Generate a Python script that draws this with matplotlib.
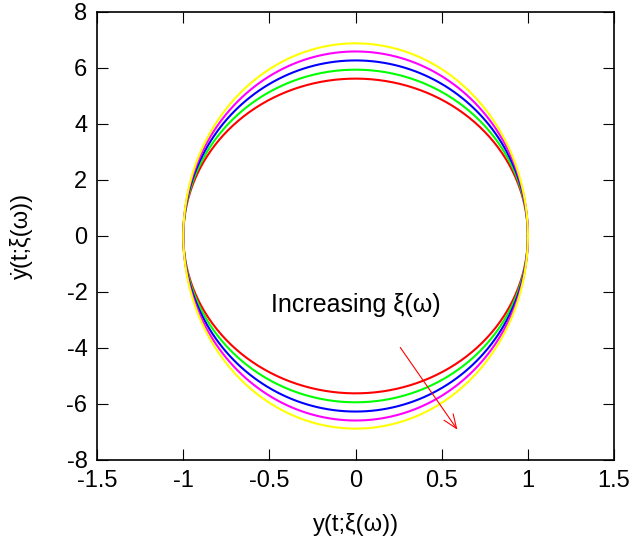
import matplotlib.pyplot as plt
import numpy as np

plt.rcParams['font.family'] = ['Liberation Sans', 'DejaVu Sans']
plt.rcParams['axes.unicode_minus'] = False

# Phase-space orbits: y = cos(w t), ydot = -w sin(w t) for increasing xi
omegas = [5.62, 5.94, 6.27, 6.59, 6.88]
colors = ['red', '#00ff00', 'blue', 'magenta', 'yellow']

xticks = [-1.5, -1, -0.5, 0, 0.5, 1, 1.5]
xtick_labels = ['-1.5', '-1', '-0.5', '0', '0.5', '1', '1.5']
yticks = [-8, -6, -4, -2, 0, 2, 4, 6, 8]

t = np.linspace(0, 2 * np.pi, 600)

fig = plt.figure(figsize=(6.35, 5.45), dpi=100)
ax = fig.add_axes([0.153, 0.156, 0.814, 0.822])

for w, c in zip(omegas, colors):
    ax.plot(np.cos(t), -w * np.sin(t), color=c, lw=1.5)

ax.set_xlim(-1.5, 1.5)
ax.set_ylim(-8, 8)
ax.set_xticks(xticks)
ax.set_xticklabels(xtick_labels)
ax.set_yticks(yticks)
ax.tick_params(direction='in', length=8, width=0.8, top=True, right=True,
               labelsize=17, pad=7)
for s in ax.spines.values():
    s.set_linewidth(1.2)

ax.set_xlabel('y(t;ξ(ω))', fontsize=17, labelpad=15)
ax.set_ylabel('\u1e8f(t;ξ(ω))', fontsize=17, labelpad=24)

ax.text(0.0, -2.45, 'Increasing ξ(ω)', fontsize=18, ha='center', va='center')
ax.annotate('', xy=(0.6, -7.0), xytext=(0.25, -3.9),
            arrowprops=dict(arrowstyle='->,head_length=1.0,head_width=0.4',
                            color='red', lw=0.8))

fig.savefig('out.png', dpi=100)
